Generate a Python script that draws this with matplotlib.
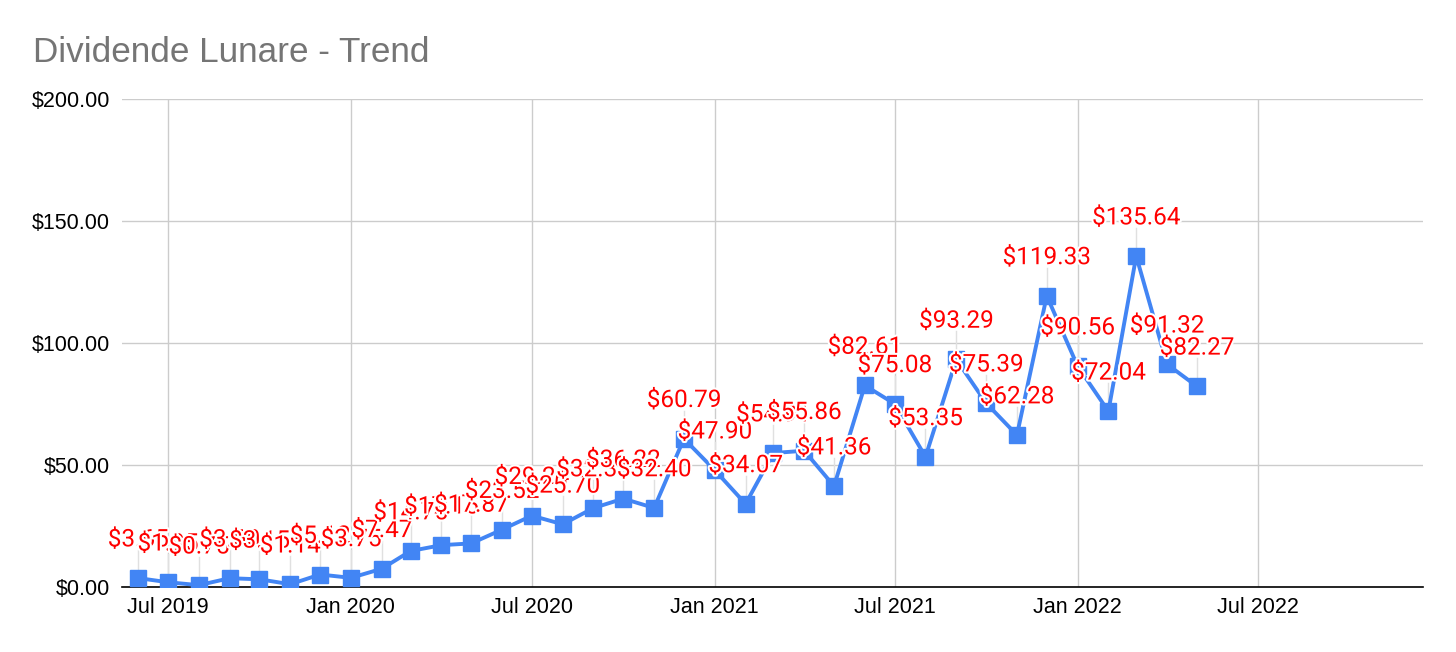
import matplotlib
matplotlib.use("Agg")
import matplotlib.pyplot as plt
import matplotlib.dates as mdates
import matplotlib.patheffects as pe
import numpy as np
import pandas as pd

# monthly dividend values, Jun 2019 .. May 2022
months = pd.date_range("2019-06-01", "2022-05-01", freq="MS")
dividends = [
    3.65, 1.95, 0.75, 3.60, 3.15, 1.14, 5.12, 3.75, 7.47, 14.75, 17.15, 17.87,
    23.52, 29.24, 25.70, 32.38, 36.22, 32.40, 60.79, 47.90, 34.07, 54.91, 55.86, 41.36,
    82.61, 75.08, 53.35, 93.29, 75.39, 62.28, 119.33, 90.56, 72.04, 135.64, 91.32, 82.27,
]
y_ticks = [0, 50, 100, 150, 200]
x_ticks = pd.date_range("2019-07-01", "2022-07-01", freq="6MS")

BLUE = "#4285f4"
RED = "#ff0000"
GRID = "#cccccc"

fig = plt.figure(figsize=(14.56, 6.52), dpi=100)
ax = fig.add_axes([0.084, 0.0997, 0.893, 0.7483])

# leader lines from each label down to its point
for d, v in zip(months, dividends):
    ax.plot([d, d], [v + 3.5, v + 11.5], color="#e0e0e0", lw=1, zorder=1)

ax.plot(months, dividends, color=BLUE, lw=2.8, marker="s", markersize=11,
        markerfacecolor=BLUE, markeredgecolor=BLUE, zorder=3)

for d, v in zip(months, dividends):
    ax.annotate(f"${v:.2f}", (d, v), xytext=(0, 27.5), textcoords="offset points",
                ha="center", va="center", color=RED, fontsize=17.5, family="Roboto",
                path_effects=[pe.withStroke(linewidth=3, foreground="white")], zorder=4)

ax.set_ylim(0, 200)
ax.set_yticks(y_ticks)
ax.set_yticklabels([f"${t:.2f}" for t in y_ticks])
ax.set_xlim(pd.Timestamp("2019-05-16"), pd.Timestamp("2022-12-14"))
ax.set_xticks(x_ticks)
ax.xaxis.set_major_formatter(mdates.DateFormatter("%b %Y"))

ax.grid(True, color=GRID, lw=1)
ax.set_axisbelow(True)
for s in ["top", "right", "left"]:
    ax.spines[s].set_visible(False)
ax.spines["bottom"].set_color("black")
ax.spines["bottom"].set_linewidth(1.2)
ax.tick_params(length=0, labelsize=15.5)
ax.tick_params(axis="x", pad=7)
ax.tick_params(axis="y", pad=9)
for lbl in ax.get_xticklabels() + ax.get_yticklabels():
    lbl.set_family("Liberation Sans")

fig.text(0.0227, 0.905, "Dividende Lunare - Trend", fontsize=25.3, color="#757575",
         family="Liberation Sans", ha="left", va="baseline")

fig.savefig("out.png", dpi=100)
